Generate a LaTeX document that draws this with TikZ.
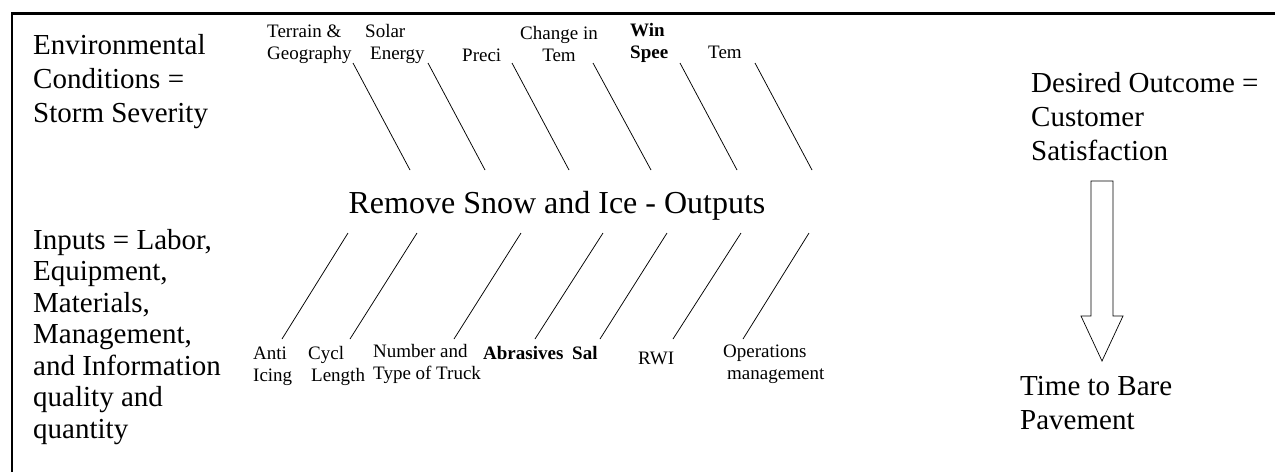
\documentclass[tikz,border=0pt]{standalone}
\usepackage{fontspec}
\setmainfont{Liberation Serif}
\begin{document}
\begin{tikzpicture}[x=1pt,y=-1pt,
  big/.style={font=\fontsize{29}{34}\selectfont, align=left, inner sep=0, anchor=west},
  bigi/.style={font=\fontsize{29}{31.5}\selectfont, align=left, inner sep=0, anchor=west},
  lbl/.style={font=\fontsize{19}{22}\selectfont, inner sep=0, anchor=west, align=left},
  blbl/.style={font=\fontsize{19}{22}\selectfont\bfseries, inner sep=0, anchor=west, align=left},
  bone/.style={line width=0.75pt},
  frame/.style={line width=2.2pt},
  blockarrow/.style={line width=0.7pt}]
\useasboundingbox (0,0) rectangle (1275,472);
% frame
\draw[frame] (12,472) -- (12,13.5) -- (1276,13.5);
% left texts
\node[big] (env) at (33,82) {Environmental\\Conditions =\\Storm Severity};
\node[bigi] (inp) at (33,337) {Inputs = Labor,\\Equipment,\\Materials,\\Management,\\and Information\\quality and\\quantity};
% title
\node[font=\fontsize{32}{36}\selectfont, inner sep=0] (title) at (557,206) {Remove Snow and Ice - Outputs};
% top labels
\node[lbl] (terr) at (267,44) {Terrain \&\\Geography};
\node[lbl] (solar) at (365,44) {Solar\\\hspace*{5pt}Energy};
\node[lbl] (preci) at (462,55) {Preci};
\node[lbl, align=center, anchor=center] (chg) at (559,44) {Change in\\Tem};
\node[blbl] (wind) at (630,43) {Win\\Spee};
\node[lbl] (temp) at (708,52) {Tem};
% top bones
\coordinate (t1a) at (353,63);  \coordinate (t1b) at (410,170);
\coordinate (t2a) at (428,63);  \coordinate (t2b) at (485,170);
\coordinate (t3a) at (512,63);  \coordinate (t3b) at (569,170);
\coordinate (t4a) at (593,63);  \coordinate (t4b) at (651,170);
\coordinate (t5a) at (680,63);  \coordinate (t5b) at (737,170);
\coordinate (t6a) at (755,63);  \coordinate (t6b) at (812,170);
\foreach \i in {1,...,6} \draw[bone] (t\i a) -- (t\i b);
% bottom labels
\node[lbl] (anti) at (253,366) {Anti\\Icing};
\node[lbl] (cycl) at (308,366) {Cycl\\\hspace*{3pt}Length};
\node[lbl] (truck) at (373,364) {Number and\\Type of Truck};
\node[blbl] (abr) at (483,353) {Abrasives};
\node[blbl] (salt) at (572,353) {Sal};
\node[lbl] (rwi) at (638,358) {RWI};
\node[lbl] (ops) at (723,364) {Operations\\\hspace*{4pt}management};
% bottom bones
\coordinate (b1a) at (282,339); \coordinate (b1b) at (348,233);
\coordinate (b2a) at (350,339); \coordinate (b2b) at (417,233);
\coordinate (b3a) at (454,339); \coordinate (b3b) at (521,233);
\coordinate (b4a) at (535,339); \coordinate (b4b) at (603,233);
\coordinate (b5a) at (600,339); \coordinate (b5b) at (667,233);
\coordinate (b6a) at (673,339); \coordinate (b6b) at (741,233);
\coordinate (b7a) at (743,339); \coordinate (b7b) at (809,233);
\foreach \i in {1,...,7} \draw[bone] (b\i a) -- (b\i b);
% right side
\node[big] (des) at (1031,117) {Desired Outcome =\\Customer\\Satisfaction};
\node[big] (bare) at (1020,403) {Time to Bare\\Pavement};
\draw[blockarrow] (1091,181) -- (1113,181) -- (1113,316) -- (1123,316) -- (1102,361) -- (1081,316) -- (1091,316) -- cycle;
\end{tikzpicture}
\end{document}
